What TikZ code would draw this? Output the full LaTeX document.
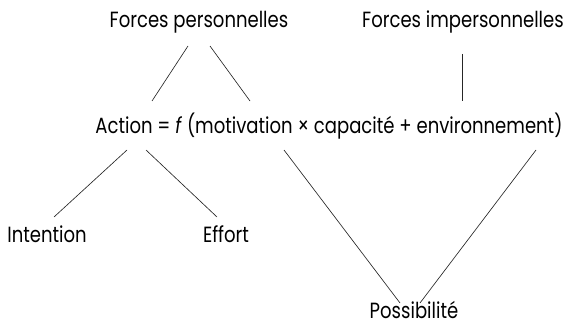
\documentclass[tikz,border=0pt]{standalone}
\usepackage{fontspec}
\setmainfont[FakeStretch=0.82]{Poppins}
\begin{document}
\begin{tikzpicture}[x=1pt,y=-1pt,
  lbl/.style={inner sep=0pt, anchor=base, font=\fontsize{22}{25}\selectfont},
  link/.style={line width=0.65pt, draw=black!85}]
\useasboundingbox (0,0) rectangle (567,326);
\node[lbl] (fp) at (199,28) {Forces personnelles};
\node[lbl] (fi) at (463,28) {Forces impersonnelles};
\node[lbl] (act) at (329,133) {Action = \textit{f} (motivation × capacité + environnement)};
\node[lbl] (int) at (47,242) {Intention};
\node[lbl] (eff) at (226,242) {Effort};
\node[lbl] (pos) at (414,318) {Possibilité};
\coordinate (a1) at (188,46);
\coordinate (a2) at (152,101);
\coordinate (b1) at (210,46);
\coordinate (b2) at (250,101);
\coordinate (c1) at (462,54);
\coordinate (c2) at (462,101);
\coordinate (d1) at (127,150);
\coordinate (d2) at (54,217);
\coordinate (e1) at (146,150);
\coordinate (e2) at (217,217);
\coordinate (g1) at (284,150);
\coordinate (g2) at (400,303);
\coordinate (h1) at (536,150);
\coordinate (h2) at (420,303);
\draw[link] (a1) -- (a2);
\draw[link] (b1) -- (b2);
\draw[link] (c1) -- (c2);
\draw[link] (d1) -- (d2);
\draw[link] (e1) -- (e2);
\draw[link] (g1) -- (g2);
\draw[link] (h1) -- (h2);
\end{tikzpicture}
\end{document}
